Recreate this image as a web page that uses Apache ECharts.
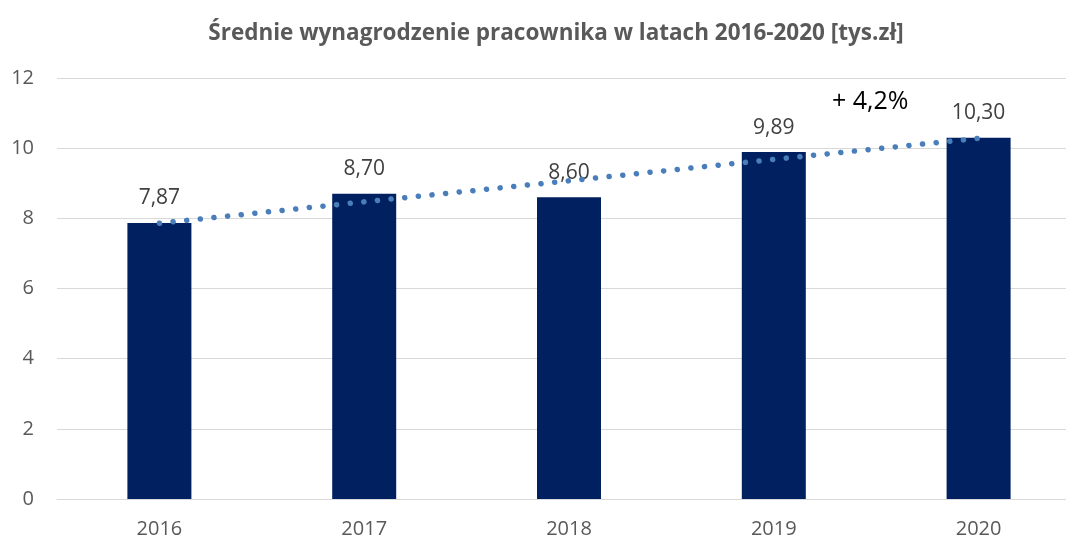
<!DOCTYPE html>
<html>
<head>
<meta charset="utf-8">
<script src="https://cdn.jsdelivr.net/npm/echarts@6/dist/echarts.min.js"></script>
<style>html,body{margin:0;padding:0;background:#fff}#c{width:1066px;height:538px}</style>
</head>
<body>
<div id="c"></div>
<script>
var titleText = 'Średnie wynagrodzenie pracownika w latach 2016-2020 [tys.zł]';
var years = ['2016', '2017', '2018', '2019', '2020'];
var salary = [7.87, 8.70, 8.60, 9.89, 10.30];
var trend = [7.86, 8.47, 9.07, 9.68, 10.28];
var yTicks = [0, 2, 4, 6, 8, 10, 12];
var annotation = '+ 4,2%';

var chart = echarts.init(document.getElementById('c'), null, {renderer: 'canvas'});
var font = 'Open Sans, Noto Sans, sans-serif';
chart.setOption({
  animation: false,
  backgroundColor: '#ffffff',
  title: {
    text: titleText,
    left: 551, top: 17, textAlign: 'center',
    textStyle: {fontFamily: font, fontSize: 22.5, fontWeight: 'bold', color: '#595959'}
  },
  grid: {left: 57, width: 1024, top: 78, bottom: 39, outerBoundsMode: 'none', containLabel: false},
  xAxis: {
    type: 'category', data: years,
    axisTick: {show: false},
    axisLine: {lineStyle: {color: '#d9d9d9', width: 1}},
    axisLabel: {color: '#595959', fontFamily: font, fontSize: 20, margin: 20}
  },
  yAxis: {
    type: 'value', min: yTicks[0], max: yTicks[yTicks.length - 1], interval: 2,
    axisLine: {show: false}, axisTick: {show: false},
    splitLine: {lineStyle: {color: '#d9d9d9', width: 1}},
    axisLabel: {color: '#595959', fontFamily: font, fontSize: 20, margin: 23}
  },
  series: [
    {
      type: 'bar', data: salary, barWidth: 64,
      itemStyle: {color: '#002060'},
      label: {
        show: true, position: 'top', distance: 14,
        color: '#404040', fontFamily: font, fontSize: 21,
        formatter: function (p) { return p.value.toFixed(2).replace('.', ','); }
      },
      z: 2
    },
    {
      type: 'line', data: trend, symbol: 'none', silent: true,
      lineStyle: {color: '#4a7ebb', width: 5.5, type: [0.1, 13.6], cap: 'round'},
      z: 3
    }
  ],
  graphic: [{
    type: 'text', left: 832, top: 89, z: 10,
    style: {text: annotation, fill: '#000000', font: '25px ' + font}
  }]
});
</script>
</body>
</html>
